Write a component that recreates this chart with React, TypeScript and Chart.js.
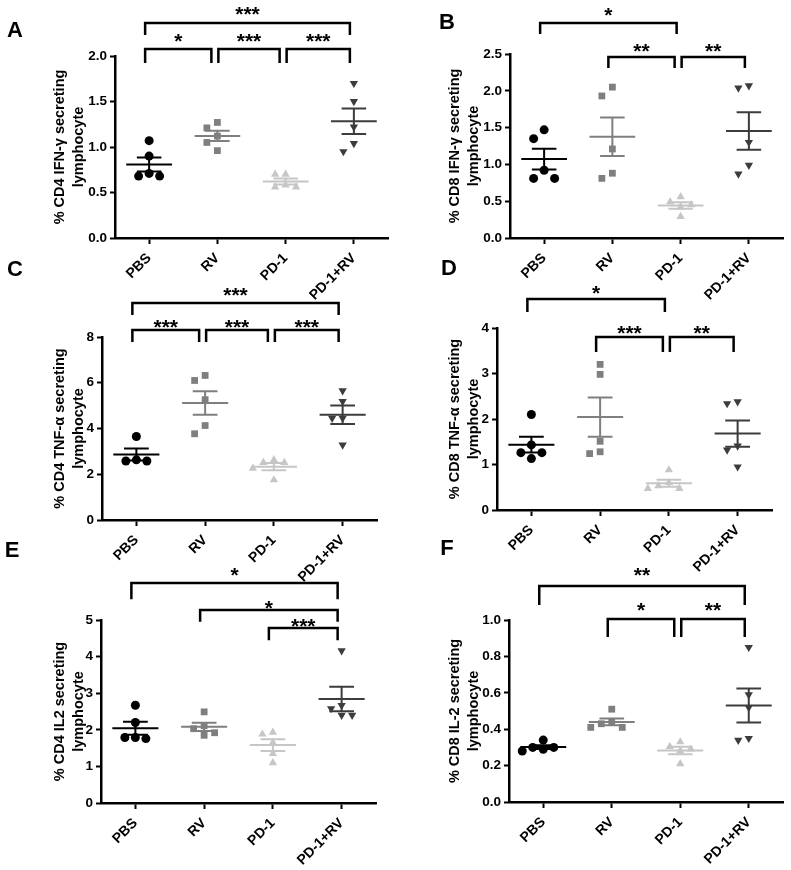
import React, { useEffect, useRef } from 'react';
import { Chart, registerables } from 'chart.js';
Chart.register(...registerables);

const FONT = 'Arial, "Liberation Sans", Helvetica, sans-serif';

const CATEGORIES = ['PBS', 'RV', 'PD-1', 'PD-1+RV'];

// Panel A: % CD4 IFN-γ secreting lymphocyte
const A_PBS = [1.07, 0.90, 0.71, 0.68, 0.68];
const A_RV = [1.27, 1.21, 1.12, 1.05, 0.96];
const A_PD1 = [0.70, 0.70, 0.58, 0.56, 0.56];
const A_PD1RV = [1.70, 1.50, 1.22, 1.04, 0.95];
const A_TICKS = [0, 0.5, 1.0, 1.5, 2.0];

// Panel B: % CD8 IFN-γ secreting lymphocyte
const B_PBS = [1.47, 1.35, 0.92, 0.81, 0.81];
const B_RV = [2.05, 1.93, 1.21, 0.88, 0.81];
const B_PD1 = [0.56, 0.49, 0.45, 0.42, 0.29];
const B_PD1RV = [2.07, 2.04, 1.30, 0.99, 0.87];
const B_TICKS = [0, 0.5, 1.0, 1.5, 2.0, 2.5];

// Panel C: % CD4 TNF-α secreting lymphocyte
const C_PBS = [3.65, 2.63, 2.58, 2.58];
const C_RV = [6.32, 6.10, 5.26, 4.13, 3.77];
const C_PD1 = [2.63, 2.51, 2.51, 2.26, 1.75];
const C_PD1RV = [5.65, 5.18, 4.45, 4.45, 3.28];
const C_TICKS = [0, 2, 4, 6, 8];

// Panel D: % CD8 TNF-α secreting lymphocyte
const D_PBS = [2.10, 1.43, 1.26, 1.26, 1.13];
const D_RV = [3.20, 2.98, 1.51, 1.28, 1.24];
const D_PD1 = [0.88, 0.60, 0.53, 0.47, 0.47];
const D_PD1RV = [2.38, 2.34, 1.41, 1.32, 0.95];
const D_TICKS = [0, 1, 2, 3, 4];

// Panel E: % CD4 IL2 secreting lymphocyte
const E_PBS = [2.67, 2.20, 1.79, 1.79, 1.76];
const E_RV = [2.49, 2.11, 2.03, 1.92, 1.85];
const E_PD1 = [1.93, 1.88, 1.65, 1.35, 1.10];
const E_PD1RV = [4.16, 2.67, 2.58, 2.40, 2.40];
const E_TICKS = [0, 1, 2, 3, 4, 5];

// Panel F: % CD8 IL-2 secreting lymphocyte
const F_PBS = [0.34, 0.30, 0.30, 0.29, 0.28];
const F_RV = [0.51, 0.44, 0.43, 0.41, 0.41];
const F_PD1 = [0.33, 0.305, 0.29, 0.28, 0.21];
const F_PD1RV = [0.85, 0.59, 0.52, 0.35, 0.34];
const F_TICKS = [0, 0.2, 0.4, 0.6, 0.8, 1.0];

// Significance brackets: [from group, to group, label, line level, tick end level] (data units)
const A_BRACKETS: [number, number, string, number, number][] = [
  [0, 1, '*', 2.077, 1.923],
  [1, 2, '***', 2.077, 1.923],
  [2, 3, '***', 2.077, 1.923],
  [0, 3, '***', 2.363, 2.231],
];
const B_BRACKETS: [number, number, string, number, number][] = [
  [0, 2, '*', 2.921, 2.772],
  [1, 2, '**', 2.459, 2.31],
  [2, 3, '**', 2.459, 2.31],
];
const C_BRACKETS: [number, number, string, number, number][] = [
  [0, 3, '***', 9.486, 8.96],
  [0, 1, '***', 8.306, 7.78],
  [1, 2, '***', 8.306, 7.78],
  [2, 3, '***', 8.306, 7.78],
];
const D_BRACKETS: [number, number, string, number, number][] = [
  [0, 2, '*', 4.637, 4.352],
  [1, 2, '***', 3.80, 3.47],
  [2, 3, '**', 3.80, 3.47],
];
const E_BRACKETS: [number, number, string, number, number][] = [
  [0, 3, '*', 6.01, 5.57],
  [1, 3, '*', 5.27, 4.95],
  [2, 3, '***', 4.78, 4.45],
];
const F_BRACKETS: [number, number, string, number, number][] = [
  [0, 3, '**', 1.187, 1.082],
  [1, 2, '*', 1.005, 0.907],
  [2, 3, '**', 1.005, 0.907],
];

const COLORS = ['#000000', '#7f7f7f', '#c6c6c6', '#3c3c3c'];
const STYLES = ['circle', 'rect', 'triangle', 'triangle'];
const ROTATIONS = [0, 0, 0, 180];
const RADII = [4.5, 4.8, 4.8, 4.8];

type Panel = {
  letter: string;
  letterPos: { x: number; y: number };
  data: number[][];
  ticks: number[];
  dec: number;
  title: string[];
  brackets: [number, number, string, number, number][];
  starGap: number[];
  box: { left: number; top: number; w: number; h: number };
  area: { left: number; top: number; right: number; bottom: number };
};

const PANELS: Panel[] = [
  {
    letter: 'A', letterPos: { x: 15, y: 29 },
    data: [A_PBS, A_RV, A_PD1, A_PD1RV], ticks: A_TICKS, dec: 1,
    title: ['% CD4 IFN-γ secreting', 'lymphocyte'], brackets: A_BRACKETS, starGap: [13, 13, 13, 14],
    box: { left: 0, top: 0, w: 395, h: 300 }, area: { left: 115, top: 56, right: 388, bottom: 238 },
  },
  {
    letter: 'B', letterPos: { x: 447, y: 21 },
    data: [B_PBS, B_RV, B_PD1, B_PD1RV], ticks: B_TICKS, dec: 1,
    title: ['% CD8 IFN-γ secreting', 'lymphocyte'], brackets: B_BRACKETS, starGap: [13, 11, 11],
    box: { left: 395, top: 0, w: 396, h: 300 }, area: { left: 115, top: 54, right: 388, bottom: 238 },
  },
  {
    letter: 'C', letterPos: { x: 15, y: 268 },
    data: [C_PBS, C_RV, C_PD1, C_PD1RV], ticks: C_TICKS, dec: 0,
    title: ['% CD4 TNF-α secreting', 'lymphocyte'], brackets: C_BRACKETS, starGap: [13, 8, 8, 8],
    box: { left: 0, top: 280, w: 395, h: 305 }, area: { left: 102, top: 57, right: 377, bottom: 240 },
  },
  {
    letter: 'D', letterPos: { x: 449, y: 267 },
    data: [D_PBS, D_RV, D_PD1, D_PD1RV], ticks: D_TICKS, dec: 0,
    title: ['% CD8 TNF-α secreting', 'lymphocyte'], brackets: D_BRACKETS, starGap: [11, 9, 9],
    box: { left: 395, top: 280, w: 396, h: 305 }, area: { left: 102, top: 48, right: 377, bottom: 230 },
  },
  {
    letter: 'E', letterPos: { x: 12, y: 549 },
    data: [E_PBS, E_RV, E_PD1, E_PD1RV], ticks: E_TICKS, dec: 0,
    title: ['% CD4 IL2 secreting', 'lymphocyte'], brackets: E_BRACKETS, starGap: [13, 7, 7],
    box: { left: 0, top: 560, w: 395, h: 310 }, area: { left: 101, top: 60, right: 376, bottom: 243 },
  },
  {
    letter: 'F', letterPos: { x: 447, y: 547 },
    data: [F_PBS, F_RV, F_PD1, F_PD1RV], ticks: F_TICKS, dec: 1,
    title: ['% CD8 IL-2 secreting', 'lymphocyte'], brackets: F_BRACKETS, starGap: [16, 14, 14],
    box: { left: 395, top: 560, w: 396, h: 310 }, area: { left: 114, top: 60, right: 388, bottom: 242 },
  },
];

// Spread overlapping points horizontally (simple beeswarm), in pixel space.
function swarm(values: number[], gi: number, pxPerY: number, pxPerX: number) {
  const STEP = 10.5;
  const MIN = 9;
  const order = values.map((_, i) => i).sort((a, b) => values[b] - values[a]);
  const placed: { x: number; y: number }[] = [];
  const out: { x: number; y: number }[] = new Array(values.length);
  const cands = [0, -1, 1, -2, 2, -3, 3];
  for (const i of order) {
    const py = values[i] * pxPerY;
    let off = 0;
    for (const c of cands) {
      const px = c * STEP;
      if (placed.every((p) => Math.hypot(p.x - px, p.y - py) >= MIN)) {
        off = px;
        break;
      }
    }
    placed.push({ x: off, y: py });
    out[i] = { x: gi + off / pxPerX, y: values[i] };
  }
  return out;
}

function meanSem(vals: number[]) {
  const n = vals.length;
  const mean = vals.reduce((s, v) => s + v, 0) / n;
  const sd = Math.sqrt(vals.reduce((s, v) => s + (v - mean) * (v - mean), 0) / (n - 1));
  return { mean, sem: sd / Math.sqrt(n) };
}

function PanelChart({ p }: { p: Panel }) {
  const ref = useRef<HTMLCanvasElement>(null);
  useEffect(() => {
    const canvas = ref.current!;
    const { box, area } = p;
    const plotW = area.right - area.left;
    const plotH = area.bottom - area.top;
    const yMax = p.ticks[p.ticks.length - 1];
    const pxPerY = plotH / yMax;
    const pxPerX = plotW / 4;

    const datasets = p.data.map((vals, gi) => ({
      label: CATEGORIES[gi],
      data: swarm(vals, gi, pxPerY, pxPerX),
      showLine: false,
      pointStyle: STYLES[gi],
      pointRotation: ROTATIONS[gi],
      pointRadius: RADII[gi],
      pointHoverRadius: RADII[gi],
      pointBackgroundColor: COLORS[gi],
      pointBorderColor: COLORS[gi],
      pointBorderWidth: 0,
      backgroundColor: COLORS[gi],
      borderColor: COLORS[gi],
      borderWidth: 0,
    }));

    const overlay = {
      id: 'overlay',
      afterDatasetsDraw(chart: any) {
        const ctx = chart.ctx as CanvasRenderingContext2D;
        const xs = chart.scales.x;
        const ys = chart.scales.y;
        ctx.save();
        ctx.lineCap = 'butt';
        p.data.forEach((vals, gi) => {
          const { mean, sem } = meanSem(vals);
          ctx.strokeStyle = COLORS[gi];
          ctx.lineWidth = 2;
          const ym = ys.getPixelForValue(mean);
          const yu = ys.getPixelForValue(mean + sem);
          const yl = ys.getPixelForValue(mean - sem);
          ctx.beginPath();
          ctx.moveTo(xs.getPixelForValue(gi - 0.335), ym);
          ctx.lineTo(xs.getPixelForValue(gi + 0.335), ym);
          ctx.moveTo(xs.getPixelForValue(gi - 0.18), yu);
          ctx.lineTo(xs.getPixelForValue(gi + 0.18), yu);
          ctx.moveTo(xs.getPixelForValue(gi - 0.18), yl);
          ctx.lineTo(xs.getPixelForValue(gi + 0.18), yl);
          ctx.moveTo(xs.getPixelForValue(gi), yu);
          ctx.lineTo(xs.getPixelForValue(gi), yl);
          ctx.stroke();
        });
        ctx.restore();
      },
      afterDraw(chart: any) {
        const ctx = chart.ctx as CanvasRenderingContext2D;
        const xs = chart.scales.x;
        const ys = chart.scales.y;
        ctx.save();
        ctx.strokeStyle = '#000';
        ctx.fillStyle = '#000';
        ctx.lineWidth = 2.5;
        ctx.lineJoin = 'miter';
        ctx.font = `bold 21px ${FONT}`;
        ctx.textAlign = 'center';
        ctx.textBaseline = 'alphabetic';
        p.brackets.forEach((b, bi) => {
          const [from, to, label, level, end] = b;
          const sharedStart = p.brackets.some((o) => o !== b && o[3] === level && o[1] === from);
          const sharedEnd = p.brackets.some((o) => o !== b && o[3] === level && o[0] === to);
          const x1 = xs.getPixelForValue(from) - 4 + (sharedStart ? 5 : 0);
          const x2 = xs.getPixelForValue(to) - 4 - (sharedEnd ? 2 : 0);
          const yTop = ys.getPixelForValue(level);
          const yBot = ys.getPixelForValue(end);
          ctx.beginPath();
          ctx.moveTo(x1, yBot);
          ctx.lineTo(x1, yTop);
          ctx.lineTo(x2, yTop);
          ctx.lineTo(x2, yBot);
          ctx.stroke();
          const gap = p.starGap[bi] ?? 13;
          ctx.fillText(label, (x1 + x2) / 2, yTop - gap + 12);
        });
        ctx.restore();
      },
    };

    const xFont = { family: FONT, size: 14, weight: 'bold' as const };
    const yFont = { family: FONT, size: 13.5, weight: 'bold' as const };

    const chart = new Chart(canvas, {
      type: 'scatter',
      data: { datasets },
      options: {
        animation: false,
        responsive: false,
        maintainAspectRatio: false,
        events: [],
        layout: {
          padding: { left: 0, top: area.top, right: box.w - area.right, bottom: 0 },
        },
        plugins: {
          legend: { display: false },
          tooltip: { enabled: false },
        },
        scales: {
          x: {
            type: 'linear',
            min: -0.5,
            max: 3.5,
            afterBuildTicks: (s: any) => {
              s.ticks = CATEGORIES.map((_, i) => ({ value: i }));
            },
            afterFit: (s: any) => {
              s.height = box.h - area.bottom;
            },
            ticks: {
              autoSkip: false,
              minRotation: 45,
              maxRotation: 45,
              color: '#000',
              font: xFont,
              padding: 6,
              callback: (v: any) => CATEGORIES[Math.round(Number(v))] ?? '',
            },
            grid: {
              drawOnChartArea: false,
              drawTicks: true,
              tickLength: 6,
              tickWidth: 2,
              tickColor: '#000',
            },
            border: { display: true, color: '#000', width: 2.5 },
          },
          y: {
            type: 'linear',
            min: 0,
            max: yMax,
            afterBuildTicks: (s: any) => {
              s.ticks = p.ticks.map((v) => ({ value: v }));
            },
            afterFit: (s: any) => {
              s.width = area.left;
            },
            ticks: {
              color: '#000',
              font: yFont,
              padding: 3,
              callback: (v: any) => Number(v).toFixed(p.dec),
            },
            grid: {
              drawOnChartArea: false,
              drawTicks: true,
              tickLength: 5,
              tickWidth: 2,
              tickColor: '#000',
            },
            border: { display: true, color: '#000', width: 2.5 },
            title: {
              display: true,
              text: p.title,
              color: '#000',
              font: { family: FONT, size: 14.5, weight: 'bold', lineHeight: 1.3 },
              padding: { top: 50.5, bottom: 0 },
            },
          },
        },
      },
      plugins: [overlay],
    } as any);
    return () => chart.destroy();
  }, [p]);

  return (
    <canvas
      ref={ref}
      width={p.box.w}
      height={p.box.h}
      style={{
        position: 'absolute',
        left: p.box.left,
        top: p.box.top,
        width: p.box.w,
        height: p.box.h,
        display: 'block',
      }}
    />
  );
}

export default function App() {
  return (
    <div
      style={{
        position: 'absolute',
        left: 0,
        top: 0,
        width: 791,
        height: 870,
        background: '#ffffff',
        overflow: 'hidden',
      }}
    >
      {PANELS.map((p) => (
        <PanelChart key={p.letter} p={p} />
      ))}
      {PANELS.map((p) => (
        <div
          key={'L' + p.letter}
          style={{
            position: 'absolute',
            left: p.letterPos.x - 15,
            top: p.letterPos.y - 10.3,
            width: 30,
            textAlign: 'center',
            font: `bold 22px ${FONT}`,
            lineHeight: '21px',
            color: '#000',
          }}
        >
          {p.letter}
        </div>
      ))}
    </div>
  );
}
